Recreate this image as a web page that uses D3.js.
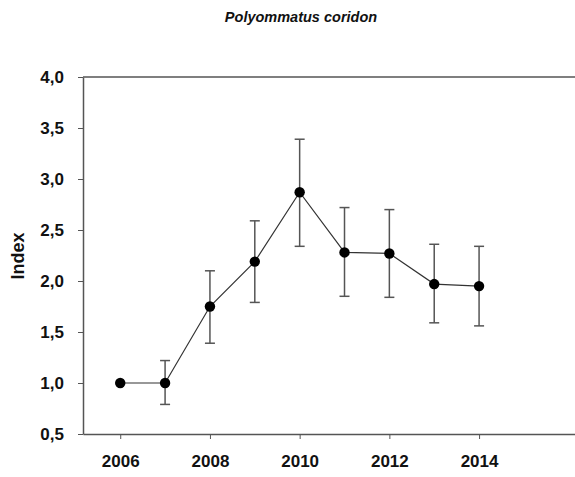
<!DOCTYPE html>
<html>
<head>
<meta charset="utf-8">
<script src="https://cdn.jsdelivr.net/npm/d3@7"></script>
<style>
  body { margin: 0; background: #fff; }
  svg { display: block; font-family: "Liberation Sans", Arial, sans-serif; }
</style>
</head>
<body>
<div id="chart"></div>
<script>
// DATA
const years = [2006, 2007, 2008, 2009, 2010, 2011, 2012, 2013, 2014];
const index = [1.00, 1.00, 1.75, 2.19, 2.87, 2.28, 2.27, 1.97, 1.95];
const upper = [null, 1.22, 2.10, 2.59, 3.39, 2.72, 2.70, 2.36, 2.34];
const lower = [null, 0.79, 1.39, 1.79, 2.34, 1.85, 1.84, 1.59, 1.56];
const xTicks = [2006, 2008, 2010, 2012, 2014];
const yTicks = [0.5, 1.0, 1.5, 2.0, 2.5, 3.0, 3.5, 4.0];

const width = 575, height = 477;
const margin = {top: 77, left: 83, bottom: 43, right: -5};

const svg = d3.select("#chart").append("svg")
    .attr("width", width)
    .attr("height", height);

const x = d3.scaleLinear()
    .domain([2005.17, 2016.25])
    .range([margin.left, width - margin.right]);
const y = d3.scaleLinear()
    .domain([0.5, 4.0])
    .range([height - margin.bottom, margin.top]);

const fmt = d => d3.format(".1f")(d).replace(".", ",");

// TITLE
svg.append("text")
    .attr("x", 301)
    .attr("y", 22)
    .attr("text-anchor", "middle")
    .style("font-size", "14.5px")
    .style("font-weight", "bold")
    .style("font-style", "italic")
    .attr("fill", "#111")
    .text("Polyommatus coridon");

// FRAME (top line)
svg.append("line")
    .attr("x1", x.range()[0]).attr("x2", x.range()[1])
    .attr("y1", y(4.0)).attr("y2", y(4.0))
    .attr("stroke", "#555").attr("stroke-width", 1.5);

// AXES
const xAxis = svg.append("g")
    .attr("transform", "translate(0," + y(0.5) + ")")
    .call(d3.axisBottom(x).tickValues(xTicks).tickFormat(d3.format("d")).tickSize(5).tickSizeOuter(0));
const yAxis = svg.append("g")
    .attr("transform", "translate(" + x(2005.17) + ",0)")
    .call(d3.axisLeft(y).tickValues(yTicks).tickFormat(fmt).tickSize(5).tickSizeOuter(0));

[xAxis, yAxis].forEach(function(g){
    g.select(".domain").attr("stroke", "#555").attr("stroke-width", 1.5);
    g.selectAll(".tick line").attr("stroke", "#555").attr("stroke-width", 1);
    g.selectAll(".tick text")
        .attr("fill", "#111")
        .style("font-size", "17px")
        .style("font-weight", "bold")
        .style("font-family", "'Liberation Sans', Arial, sans-serif");
});
xAxis.selectAll(".tick text").attr("dy", "1.45em");
yAxis.selectAll(".tick text").attr("x", -19);

// Y LABEL
svg.append("text")
    .attr("transform", "translate(24," + 256 + ") rotate(-90)")
    .attr("text-anchor", "middle")
    .style("font-size", "18px")
    .style("font-weight", "bold")
    .attr("fill", "#111")
    .text("Index");

const data = years.map(function(yr, i){
    return {year: yr, value: index[i], hi: upper[i], lo: lower[i]};
});

// ERROR BARS
const bars = svg.append("g").selectAll("g")
    .data(data.filter(d => d.hi !== null))
    .enter().append("g")
    .attr("stroke", "#555")
    .attr("stroke-width", 1.5);
bars.append("line")
    .attr("x1", d => x(d.year)).attr("x2", d => x(d.year))
    .attr("y1", d => y(d.lo)).attr("y2", d => y(d.hi));
bars.append("line")
    .attr("x1", d => x(d.year) - 5).attr("x2", d => x(d.year) + 5)
    .attr("y1", d => y(d.hi)).attr("y2", d => y(d.hi));
bars.append("line")
    .attr("x1", d => x(d.year) - 5).attr("x2", d => x(d.year) + 5)
    .attr("y1", d => y(d.lo)).attr("y2", d => y(d.lo));

// LINE
const line = d3.line()
    .x(d => x(d.year))
    .y(d => y(d.value));
svg.append("path")
    .datum(data)
    .attr("d", line)
    .attr("fill", "none")
    .attr("stroke", "#333")
    .attr("stroke-width", 1.2);

// POINTS
svg.append("g").selectAll("circle")
    .data(data)
    .enter().append("circle")
    .attr("cx", d => x(d.year))
    .attr("cy", d => y(d.value))
    .attr("r", 5.2)
    .attr("fill", "#000");
</script>
</body>
</html>
